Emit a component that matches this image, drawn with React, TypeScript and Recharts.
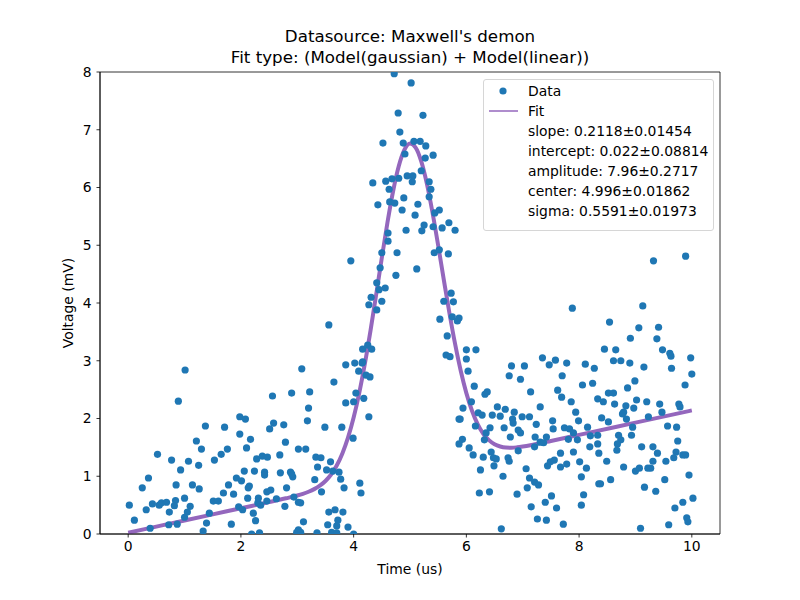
import { ComposedChart, Scatter, Line, XAxis, YAxis, ReferenceArea } from 'recharts';

const FONT = '"DejaVu Sans", sans-serif';

const dataTime = [
  0.02, 0.11, 0.39, 0.25, 0.36, 0.52, 0.32, 0.43,
  0.55, 0.59, 0.68, 0.73, 0.72, 0.77, 0.93, 0.85,
  0.84, 0.82, 0.87, 1.0, 1.07, 1.21, 1.3, 1.25,
  1.37, 1.14, 1.26, 1.1, 1.05, 1.0, 1.44, 1.39,
  1.33, 1.53, 1.65, 1.76, 1.71, 1.78, 1.69, 1.87,
  1.51, 1.6, 1.83, 1.98, 2.08, 1.98, 2.17, 2.1,
  2.06, 1.92, 2.01, 2.15, 2.13, 2.12, 1.96, 2.03,
  2.28, 2.24, 2.3, 2.22, 2.26, 2.19, 1.01, 0.89,
  3.08, 2.56, 2.9, 3.22, 3.2, 3.18, 3.65, 3.86,
  4.02, 4.15, 2.58, 2.51, 2.76, 3.49, 3.79, 2.79,
  3.02, 3.15, 3.99, 2.38, 2.47, 2.69, 3.33, 3.42,
  3.59, 2.42, 2.42, 2.7, 2.88, 2.92, 2.9, 3.36,
  3.52, 3.63, 3.74, 3.77, 3.31, 2.81, 3.83, 4.11,
  4.13, 3.43, 2.53, 2.46, 2.31, 2.46, 2.35, 2.63,
  2.78, 2.94, 3.02, 3.06, 3.11, 3.02, 2.99, 3.06,
  3.35, 3.56, 3.67, 3.81, 3.54, 3.72, 3.7, 3.9,
  3.61, 3.7, 4.0, 2.33, 3.56,
  4.72, 5.02, 4.79, 5.23, 4.82, 4.52, 4.88, 5.07,
  5.18, 5.28, 4.91, 5.27, 5.41, 5.2, 5.05, 4.95,
  5.04, 4.57, 4.68, 4.8, 4.63, 4.34, 5.34, 5.37,
  5.34, 4.64, 4.73, 4.89, 4.86, 4.43, 5.14, 5.09,
  5.44, 5.52, 5.57, 5.69, 5.8, 5.41, 5.25, 5.21,
  4.93, 4.61, 4.61, 4.5, 4.77, 5.43, 5.52, 5.68,
  3.95, 5.12, 4.75, 4.47, 4.41, 4.45, 4.56, 4.31,
  4.27, 4.5, 4.41, 5.6, 5.73, 5.77, 5.53, 5.75,
  5.84, 5.87, 5.66, 5.64, 5.71, 4.16, 4.25, 4.32,
  4.16, 4.09, 4.22, 4.29, 4.04, 3.86, 4.0, 4.18,
  4.27, 6.0, 6.17, 6.0, 6.03, 6.14, 6.09, 5.94,
  5.87, 5.89, 5.93, 5.87, 6.05, 6.12, 6.16, 6.21,
  6.25,
  7.88, 7.35, 7.47, 7.58, 7.78, 6.8, 7.03, 6.76,
  6.96, 8.11, 8.27, 7.7, 8.06, 8.24, 7.62, 7.69,
  7.14, 6.37, 6.33, 7.86, 7.31, 6.55, 6.69, 6.28,
  6.46, 6.6, 6.85, 6.99, 7.12, 7.94, 7.99, 7.53,
  7.24, 6.82, 6.83, 6.92, 6.96, 6.78, 6.67, 6.42,
  6.35, 6.32, 7.54, 7.74, 7.83, 7.9, 7.97, 8.15,
  8.2, 8.33, 7.22, 7.31, 7.42, 7.37, 7.21, 6.92,
  7.81, 8.19, 8.33, 8.35, 6.44, 6.3, 6.48, 6.53,
  6.49, 6.74, 6.76, 6.65, 7.06, 7.12, 7.21, 7.28,
  7.08, 7.44, 7.49, 7.56, 7.67, 7.67, 7.78, 7.9,
  8.01, 8.13, 8.04, 8.08, 8.04, 8.35, 6.23, 6.41,
  6.9, 7.51, 7.4, 7.15, 7.6, 7.26, 7.42, 7.72,
  6.62,
  9.32, 9.89, 9.13, 8.54, 9.06, 9.41, 8.91, 9.38,
  8.45, 8.65, 9.48, 9.61, 9.63, 8.61, 8.74, 8.9,
  9.15, 9.64, 9.98, 10.0, 9.88, 8.99, 8.86, 8.52,
  8.61, 8.33, 8.43, 8.63, 9.02, 9.2, 8.83, 8.97,
  8.79, 8.77, 9.43, 9.47, 9.77, 9.79, 8.4, 8.52,
  8.84, 9.23, 9.57, 9.73, 8.95, 8.93, 8.7, 8.74,
  8.68, 8.67, 9.11, 9.31, 9.39, 9.75, 9.72, 9.84,
  9.89, 9.68, 9.54, 9.31, 9.27, 9.22, 8.49, 8.79,
  9.0, 9.07, 9.95, 9.52, 8.56, 8.38, 9.16, 9.36,
  10.02, 9.84, 9.7, 9.91, 9.93, 9.09, 9.59,
];

const dataVoltage = [
  0.5, 0.24, 0.1, 0.8, 0.97, 1.38, 0.42, 0.52,
  0.5, 0.54, 0.55, 0.38, 0.16, 1.28, 1.11, 0.85,
  0.58, 0.49, 0.17, 0.62, 1.26, 1.61, 1.47, 1.19,
  1.87, 0.85, 0.78, 0.48, 0.38, 0.29, 0.36, 0.19,
  0.05, 1.28, 1.38, 1.47, 1.85, 0.85, 0.71, 0.69,
  0.57, 0.57, 0.17, 2.03, 1.99, 1.73, 1.64, 1.49,
  1.09, 0.97, 0.92, 0.83, 0.8, 0.62, 0.47, 0.42,
  1.3, 1.09, 0.54, 0.36, 0.23, 0.0, 2.84, 2.3,
  2.86, 2.39, 2.44, 2.46, 2.18, 1.96, 2.63, 2.93,
  2.96, 2.96, 1.92, 1.82, 1.89, 1.85, 1.85, 1.59,
  1.47, 1.47, 1.66, 1.35, 1.33, 1.37, 1.33, 1.32,
  1.25, 1.07, 1.02, 1.06, 1.07, 0.99, 1.04, 1.16,
  1.11, 1.09, 1.07, 0.95, 0.94, 0.8, 0.8, 0.88,
  0.71, 0.73, 0.76, 0.73, 0.62, 0.57, 0.5, 0.61,
  0.48, 0.64, 0.55, 0.54, 0.21, 0.07, 0.03, 0.03,
  0.02, 0.38, 0.42, 0.38, 0.16, 0.24, 0.14, 0.12,
  0.03, 0.02, 0.0, 0.02, 3.62,
  7.97, 7.81, 7.29, 7.25, 6.96, 6.77, 6.77, 6.8,
  6.8, 6.72, 6.58, 6.51, 6.56, 6.29, 6.2, 6.2,
  6.1, 6.11, 6.15, 6.16, 5.97, 6.08, 6.1, 5.97,
  5.84, 5.75, 5.73, 5.82, 5.61, 5.7, 5.71, 5.52,
  5.56, 5.61, 5.3, 5.39, 5.26, 5.32, 5.35, 5.25,
  5.26, 5.21, 5.07, 4.87, 4.87, 4.87, 4.92, 4.85,
  4.73, 4.59, 4.48, 4.61, 4.35, 4.23, 4.26, 4.1,
  3.97, 4.03, 3.88, 4.03, 4.17, 4.02, 3.72, 3.76,
  3.69, 3.74, 3.43, 3.1, 3.07, 3.2, 3.27, 3.2,
  2.98, 2.82, 2.75, 2.72, 2.44, 2.27, 2.29, 2.35,
  2.03, 3.19, 3.19, 3.03, 2.82, 2.56, 2.29, 2.18,
  1.99, 1.99, 1.64, 1.56, 1.49, 1.37, 1.87, 2.1,
  1.11,
  3.91, 3.05, 2.93, 3.01, 2.96, 2.91, 2.91, 2.74,
  2.68, 2.94, 2.87, 2.74, 2.58, 2.61, 2.49, 2.37,
  2.46, 2.46, 2.42, 2.29, 2.2, 2.2, 2.16, 2.06,
  2.06, 2.04, 2.11, 2.03, 2.03, 2.11, 1.96, 1.96,
  1.9, 1.99, 1.92, 1.8, 1.75, 1.68, 1.84, 1.84,
  1.75, 1.63, 1.82, 1.84, 1.82, 1.75, 1.63, 1.85,
  1.7, 1.71, 1.68, 1.59, 1.68, 1.58, 1.51, 1.44,
  1.64, 1.51, 1.56, 1.4, 1.42, 1.33, 1.32, 1.3,
  1.18, 1.32, 1.26, 1.0, 1.13, 0.97, 0.9, 0.85,
  0.8, 1.18, 1.25, 1.28, 1.4, 1.16, 1.21, 1.42,
  1.25, 1.14, 0.99, 0.68, 0.5, 0.87, 0.71, 0.73,
  0.69, 0.66, 0.55, 0.47, 0.45, 0.26, 0.24, 0.17,
  0.09,
  4.73, 4.81, 3.95, 3.67, 3.57, 3.58, 3.39, 3.38,
  3.2, 3.19, 3.19, 3.13, 3.08, 3.0, 3.0, 2.96,
  2.89, 2.87, 3.05, 2.77, 2.58, 2.65, 2.53, 2.44,
  2.44, 2.34, 2.29, 2.25, 2.32, 2.29, 2.22, 2.18,
  2.11, 2.08, 2.25, 2.11, 2.25, 2.2, 2.01, 1.94,
  1.99, 2.03, 1.87, 1.85, 1.85, 1.71, 1.71, 1.63,
  1.56, 1.45, 1.51, 1.51, 1.4, 1.61, 1.42, 1.37,
  1.37, 1.32, 1.26, 1.26, 1.14, 1.14, 1.26, 1.16,
  1.09, 1.14, 1.02, 0.94, 0.94, 0.87, 0.81, 0.74,
  0.62, 0.55, 0.45, 0.28, 0.21, 0.1, 0.16,
];

// fitted curve, sampled along the purple trace
const fitTime = [
  0, 0.5, 1, 1.5, 2, 2.5, 2.8, 3.0, 3.1, 3.2, 3.3, 3.4, 3.5, 3.6, 3.7, 3.8, 3.9,
  4.0, 4.1, 4.2, 4.3, 4.4, 4.5, 4.6, 4.7, 4.8, 4.9, 5.0, 5.1, 5.2, 5.3, 5.4, 5.5,
  5.6, 5.7, 5.8, 5.9, 6.0, 6.1, 6.2, 6.3, 6.4, 6.5, 6.6, 6.7, 6.8, 6.9, 7.0, 7.2,
  7.5, 8, 9, 10,
];
const fitVoltage = [
  0.022, 0.128, 0.234, 0.34, 0.446, 0.552, 0.618, 0.666, 0.696, 0.732, 0.777,
  0.837, 0.918, 1.031, 1.186, 1.395, 1.668, 2.016, 2.445, 2.953, 3.527, 4.147,
  4.783, 5.393, 5.935, 6.367, 6.65, 6.761, 6.692, 6.451, 6.063, 5.563, 4.995,
  4.401, 3.823, 3.291, 2.827, 2.44, 2.134, 1.903, 1.736, 1.625, 1.554, 1.515,
  1.497, 1.494, 1.501, 1.514, 1.55, 1.611, 1.716, 1.928, 2.14,
];

const xTicks = [0, 2, 4, 6, 8, 10];
const yTicks = [0, 1, 2, 3, 4, 5, 6, 7, 8];

const legendRows = [
  'slope: 0.2118±0.01454',
  'intercept: 0.022±0.08814',
  'amplitude: 7.96±0.2717',
  'center: 4.996±0.01862',
  'sigma: 0.5591±0.01973',
];

const tickStyle = { fill: '#000', fontSize: 13.9, fontFamily: FONT };

export default function App() {
  const points = dataTime.map((t, i) => ({ x: t, y: dataVoltage[i] }));
  const fit = fitTime.map((t, i) => ({ x: t, y: fitVoltage[i] }));

  return (
    <div style={{ position: 'relative', width: 800, height: 600, background: '#fff', fontFamily: FONT, color: '#000' }}>
      <style>{'body{margin:0}'}</style>
      <ComposedChart width={800} height={600} margin={{ top: 72, right: 80, bottom: 36, left: 40 }}>
        <XAxis
          type="number"
          dataKey="x"
          domain={[-0.5, 10.5]}
          ticks={xTicks}
          allowDataOverflow
          height={30}
          tickSize={3.5}
          tickMargin={4}
          stroke="#000"
          strokeWidth={0.8}
          tick={tickStyle}
        />
        <YAxis
          type="number"
          dataKey="y"
          domain={[0, 8]}
          ticks={yTicks}
          allowDataOverflow
          width={60}
          tickSize={3.5}
          tickMargin={5}
          stroke="#000"
          strokeWidth={0.8}
          tick={tickStyle}
        />
        <ReferenceArea
          x1={-0.5}
          x2={10.5}
          y1={0}
          y2={8}
          fill="none"
          stroke="#000"
          strokeWidth={0.8}
          ifOverflow="visible"
        />
        <Scatter
          data={points}
          fill="#1f77b4"
          isAnimationActive={false}
          shape={(p: any) => <circle cx={p.cx} cy={p.cy} r={3.6} fill="#1f77b4" />}
        />
        <Line
          data={fit}
          dataKey="y"
          type="monotone"
          stroke="#9467bd"
          strokeWidth={4}
          dot={false}
          isAnimationActive={false}
        />
      </ComposedChart>

      <div style={{ position: 'absolute', left: 0, width: 820, top: 26, textAlign: 'center', fontSize: 16.7, lineHeight: '21px' }}>
        <div>Datasource: Maxwell's demon</div>
        <div>Fit type: (Model(gaussian) + Model(linear))</div>
      </div>

      <div style={{ position: 'absolute', left: 0, width: 820, top: 561, textAlign: 'center', fontSize: 13.9 }}>
        Time (us)
      </div>
      <div
        style={{
          position: 'absolute',
          left: 68,
          top: 303,
          fontSize: 13.9,
          whiteSpace: 'nowrap',
          transform: 'translate(-50%, -50%) rotate(-90deg)',
        }}
      >
        Voltage (mV)
      </div>

      <div
        style={{
          position: 'absolute',
          left: 483,
          top: 79,
          width: 229,
          height: 150,
          border: '1px solid #d6d6d6',
          borderRadius: 3,
          background: 'rgba(255,255,255,0.8)',
          fontSize: 13.9,
        }}
      >
        <svg width={40} height={40} style={{ position: 'absolute', left: 0, top: 0 }}>
          <circle cx={19} cy={11} r={3.6} fill="#1f77b4" />
          <line x1={5} x2={34} y1={31} y2={31} stroke="#9467bd" strokeWidth={1.5} />
        </svg>
        {['Data', 'Fit', ...legendRows].map((row, i) => (
          <div key={row} style={{ position: 'absolute', left: 44, top: 1 + i * 20, lineHeight: '20px', whiteSpace: 'nowrap' }}>
            {row}
          </div>
        ))}
      </div>
    </div>
  );
}
